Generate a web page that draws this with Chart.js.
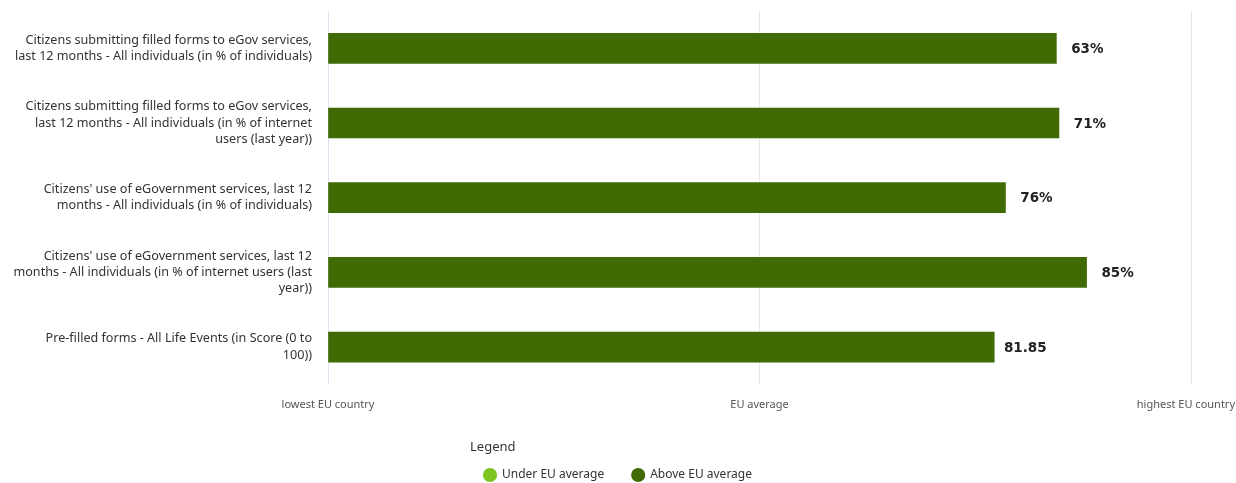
<!DOCTYPE html>
<html>
<head>
<meta charset="utf-8">
<script src="https://cdn.jsdelivr.net/npm/chart.js@4.4.0/dist/chart.umd.min.js"></script>
<style>
  html, body { margin: 0; padding: 0; background: #fff; overflow: hidden; }
  #wrap { width: 1236px; height: 491px; position: relative; }
</style>
</head>
<body>
<div id="wrap"><canvas id="indicatorChart"></canvas></div>
<script>
// --- Chart Data ---
const categories = [
    ['Citizens submitting filled forms to eGov services,', 'last 12 months - All individuals (in % of individuals)'],
    ['Citizens submitting filled forms to eGov services,', 'last 12 months - All individuals (in % of internet', 'users (last year))'],
    ["Citizens' use of eGovernment services, last 12", 'months - All individuals (in % of individuals)'],
    ["Citizens' use of eGovernment services, last 12", 'months - All individuals (in % of internet users (last', 'year))'],
    ['Pre-filled forms - All Life Events (in Score (0 to', '100))']
];
// position between lowest (0), EU average (50) and highest (100) country
const positions = [84.4, 84.7, 78.5, 87.9, 77.2];
const valueLabels = ['63%', '71%', '76%', '85%', '81.85'];
const tickValues = [0, 50, 100];
const tickLabels = ['lowest EU country', 'EU average', 'highest EU country'];
const seriesNames = ['Under EU average', 'Above EU average'];

const euAverage = 50;
const underData = positions.map(v => v < euAverage ? v : null);
const aboveData = positions.map(v => v >= euAverage ? v : null);

// draws the scale labels under the chart and the value next to each bar
const labelsPlugin = {
    id: 'labelsPlugin',
    afterDatasetsDraw(chart) {
        const ctx = chart.ctx;
        const xScale = chart.scales.x;
        ctx.save();
        ctx.textBaseline = 'middle';
        ctx.textAlign = 'center';
        ctx.fillStyle = '#222';
        ctx.font = 'bold 13.5px "DejaVu Sans"';
        chart.data.datasets.forEach((ds, di) => {
            chart.getDatasetMeta(di).data.forEach((bar, i) => {
                if (ds.data[i] == null) return;
                ctx.fillText(valueLabels[i], bar.x + 31, bar.y + 1);
            });
        });

        ctx.font = '11px "Noto Sans"';
        ctx.fillStyle = '#555';
        tickValues.forEach((v, i) => {
            const w = ctx.measureText(tickLabels[i]).width;
            let x = xScale.getPixelForValue(v);
            x = Math.min(x, chart.width - w / 2 - 1);
            ctx.fillText(tickLabels[i], x, chart.chartArea.bottom + 20);
        });
        ctx.restore();
    }
};

const ctx = document.getElementById('indicatorChart').getContext('2d');
const indicatorChart = new Chart(ctx, {
    type: 'bar',
    data: {
        labels: categories,
        datasets: [{
            label: seriesNames[0],
            data: underData,
            backgroundColor: '#7cc41f',
            barThickness: 30,
            skipNull: true
        }, {
            label: seriesNames[1],
            data: aboveData,
            backgroundColor: '#3f6a04',
            barThickness: 30,
            skipNull: true
        }]
    },
    options: {
        indexAxis: 'y',
        responsive: true,
        maintainAspectRatio: false,
        animation: false,
        layout: { padding: { top: 11, right: 0, left: 0, bottom: 0 } },
        plugins: {
            title: { display: false },
            tooltip: { enabled: false },
            legend: {
                position: 'bottom',
                align: 'center',
                title: {
                    display: true,
                    text: 'Legend',
                    position: 'start',
                    color: '#333',
                    font: { family: 'Noto Sans', size: 13 },
                    padding: { top: 10, bottom: -15 }
                },
                labels: {
                    usePointStyle: true,
                    pointStyle: 'circle',
                    boxHeight: 10,
                    padding: 28,
                    color: '#333',
                    font: { family: 'Noto Sans', size: 12 }
                }
            }
        },
        scales: {
            x: {
                min: 0,
                max: 100,
                afterBuildTicks(scale) {
                    scale.ticks = tickValues.map(v => ({ value: v }));
                },
                afterFit(scale) {
                    scale.height = 46;
                    scale.paddingRight = 45;
                },
                ticks: { display: false },
                border: { display: false },
                grid: {
                    drawTicks: false,
                    color: c => c.index === 0 ? '#dfe2f0' : '#e9e9e9'
                }
            },
            y: {
                afterFit(scale) {
                    scale.width = 328;
                    scale.paddingTop = 0;
                    scale.paddingBottom = 0;
                },
                border: { display: false },
                grid: { display: false, drawTicks: false },
                ticks: {
                    padding: 16,
                    color: '#333',
                    font: { family: 'Noto Sans', size: 12.6, lineHeight: 1.3 }
                }
            }
        }
    },
    plugins: [labelsPlugin]
});
</script>
</body>
</html>
